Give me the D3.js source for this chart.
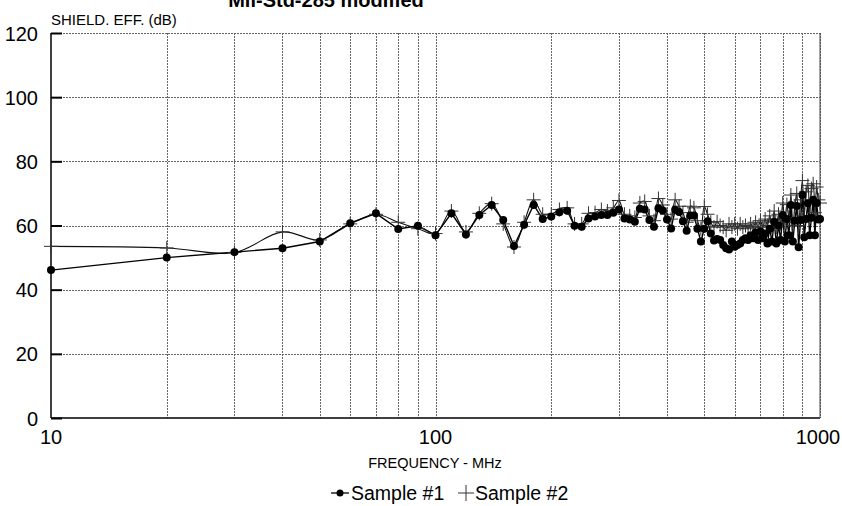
<!DOCTYPE html>
<html>
<head>
<meta charset="utf-8">
<script src="https://cdn.jsdelivr.net/npm/d3@7"></script>
<style>
  body { margin: 0; background: #fff; }
  svg { display: block; font-family: "Liberation Sans", Arial, sans-serif; }
</style>
</head>
<body>
<div id="chart"></div>
<script>
// ============================================================
//  Data
// ============================================================

const freqs = d3.range(10, 1001, 10); // MHz, 10 MHz steps

const sample1 = [
  46.1, 50.0, 51.7, 52.9, 55.0, 60.7, 63.8, 58.9, 59.9, 57.0,
  63.8, 57.2, 63.3, 66.4, 61.7, 53.6, 60.2, 66.4, 62.0, 62.8,
  64.1, 64.6, 59.9, 59.6, 62.2, 62.8, 63.3, 63.3, 64.0, 65.0,
  62.2, 61.9, 61.2, 65.2, 65.0, 61.7, 59.6, 65.4, 64.7, 61.9,
  59.1, 64.9, 64.2, 61.3, 58.4, 63.1, 63.1, 59.0, 55.0, 59.0,
  61.3, 57.5, 55.3, 55.8, 55.5, 53.9, 52.9, 52.5, 55.0, 53.4,
  53.9, 54.4, 55.5, 56.0, 55.5, 57.0, 56.0, 57.8, 55.5, 58.1,
  56.0, 57.5, 54.4, 59.0, 55.0, 61.2, 54.4, 60.0, 55.5, 63.3,
  55.0, 62.0, 57.0, 66.4, 55.0, 61.5, 66.1, 53.2, 61.7, 69.5,
  56.3, 62.0, 66.9, 57.0, 62.4, 68.0, 57.0, 67.0, 61.9, 62.0
];

const sample2 = [
  53.5, 53.0, 51.6, 58.0, 55.5, 60.5, 63.5, 61.0, 59.0, 57.5,
  64.5, 58.0, 63.8, 66.8, 60.5, 53.3, 61.0, 68.0, 63.5, 63.5,
  65.0, 65.5, 60.5, 60.5, 63.8, 64.0, 65.0, 64.5, 65.5, 67.8,
  63.5, 63.0, 62.5, 67.0, 67.5, 63.0, 61.5, 68.4, 66.4, 63.5,
  62.0, 68.0, 66.0, 64.0, 61.0, 66.0, 65.5, 61.5, 59.0, 65.9,
  63.5, 61.0, 59.5, 61.2, 60.0, 59.5, 58.5, 60.5, 59.5, 60.5,
  59.0, 60.5, 59.5, 60.0, 59.0, 60.5, 59.5, 61.0, 59.5, 61.5,
  59.5, 62.0, 60.0, 63.0, 59.5, 64.5, 59.5, 63.5, 60.5, 67.0,
  61.0, 66.5, 62.5, 69.5, 60.0, 66.0, 70.0, 60.0, 68.0, 74.0,
  63.0, 70.5, 72.5, 63.0, 71.5, 73.0, 64.0, 72.0, 68.0, 67.0
];

const yTicks = [0, 20, 40, 60, 80, 100, 120];
const xLabelTicks = [10, 100, 1000];
const xGridTicks = [20, 30, 40, 50, 60, 70, 80, 90, 100,
                    200, 300, 400, 500, 600, 700, 800, 900, 1000];

const titleText = 'Mil-Std-285 modified';
const yTitle = 'SHIELD. EFF. (dB)';
const xTitle = 'FREQUENCY - MHz';
const seriesNames = ['Sample #1', 'Sample #2'];

// ============================================================
//  Chart
// ============================================================

const W = 842, H = 506;
const plot = { left: 51, right: 820, top: 33, bottom: 418 };

const svg = d3.select('#chart').append('svg')
  .attr('width', W).attr('height', H);

const x = d3.scaleLog().domain([10, 1000]).range([plot.left, plot.right]);
const y = d3.scaleLinear().domain([0, 120]).range([plot.bottom, plot.top]);

// grid
const grid = svg.append('g').attr('stroke', '#666').attr('stroke-width', 1)
  .attr('stroke-dasharray', '2,1');
grid.selectAll('line.v').data(xGridTicks).join('line')
  .attr('class', 'v')
  .attr('x1', d => Math.round(x(d)) + 0.5).attr('x2', d => Math.round(x(d)) + 0.5)
  .attr('y1', plot.top).attr('y2', plot.bottom);
grid.selectAll('line.h').data(yTicks.filter(d => d > 0)).join('line')
  .attr('class', 'h')
  .attr('x1', plot.left).attr('x2', plot.right)
  .attr('y1', d => Math.round(y(d)) + 0.5).attr('y2', d => Math.round(y(d)) + 0.5);

// axes lines
svg.append('line').attr('x1', plot.left).attr('x2', plot.left)
  .attr('y1', plot.top).attr('y2', plot.bottom)
  .attr('stroke', '#000').attr('stroke-width', 1.5);
svg.append('line').attr('x1', plot.left).attr('x2', plot.right)
  .attr('y1', plot.bottom).attr('y2', plot.bottom)
  .attr('stroke', '#000').attr('stroke-width', 1.5);
svg.append('line').attr('x1', plot.right).attr('x2', plot.right)
  .attr('y1', plot.top).attr('y2', plot.bottom)
  .attr('stroke', '#444').attr('stroke-width', 1);

// y axis: short thick inward ticks, labels on the left
const yAxis = svg.append('g')
  .attr('transform', `translate(${plot.left},0)`)
  .call(d3.axisRight(y).tickValues(yTicks).tickSize(11).tickFormat(''));
yAxis.select('.domain').remove();
yAxis.selectAll('.tick line').attr('stroke', '#000').attr('stroke-width', 2);

svg.append('g').selectAll('text').data(yTicks).join('text')
  .attr('x', 38).attr('y', d => y(d) + 7.5)
  .attr('text-anchor', 'end')
  .attr('font-size', 20)
  .text(d => d);

// x labels
svg.append('g').selectAll('text').data(xLabelTicks).join('text')
  .attr('x', d => x(d) - (d === 1000 ? 2 : 0)).attr('y', 444)
  .attr('text-anchor', 'middle')
  .attr('font-size', 20)
  .text(d => d);

// titles
svg.append('text').attr('x', 326).attr('y', 7)
  .attr('text-anchor', 'middle').attr('font-size', 20).attr('font-weight', 'bold')
  .text(titleText);
svg.append('text').attr('x', 51).attr('y', 25)
  .attr('font-size', 15).text(yTitle);
svg.append('text').attr('x', 435).attr('y', 468)
  .attr('text-anchor', 'middle').attr('font-size', 14.5).text(xTitle);

// series
const pts1 = freqs.map((f, i) => ({ f, v: sample1[i] }));
const pts2 = freqs.map((f, i) => ({ f, v: sample2[i] }));

const line1 = d3.line().x(d => x(d.f)).y(d => y(d.v)).curve(d3.curveLinear);
const line2 = d3.line().x(d => x(d.f)).y(d => y(d.v)).curve(d3.curveCatmullRom);

svg.append('path').datum(pts2).attr('d', line2)
  .attr('fill', 'none').attr('stroke', '#111').attr('stroke-width', 1.1);
svg.append('path').datum(pts1).attr('d', line1)
  .attr('fill', 'none').attr('stroke', '#000').attr('stroke-width', 1.4);

const plusSize = 7;
const plus = svg.append('g').attr('stroke', '#333').attr('stroke-width', 1);
plus.selectAll('path').data(pts2).join('path')
  .attr('d', d => {
    const cx = x(d.f), cy = y(d.v);
    return `M${cx - plusSize},${cy}H${cx + plusSize}M${cx},${cy - plusSize}V${cy + plusSize}`;
  });

svg.append('g').selectAll('circle').data(pts1).join('circle')
  .attr('cx', d => x(d.f)).attr('cy', d => y(d.v)).attr('r', 4)
  .attr('fill', '#000');

// legend
const leg = svg.append('g').attr('transform', 'translate(0,493)');
leg.append('line').attr('x1', 331).attr('x2', 349).attr('y1', 0).attr('y2', 0)
  .attr('stroke', '#000').attr('stroke-width', 1.3);
leg.append('circle').attr('cx', 340).attr('cy', 0).attr('r', 3.5).attr('fill', '#000');
leg.append('text').attr('x', 351).attr('y', 7).attr('font-size', 19.5).text(seriesNames[0]);
leg.append('path').attr('d', 'M458,0H474M466,-8V8').attr('stroke', '#333').attr('stroke-width', 1);
leg.append('text').attr('x', 475).attr('y', 7).attr('font-size', 19.5).text(seriesNames[1]);
</script>
</body>
</html>
